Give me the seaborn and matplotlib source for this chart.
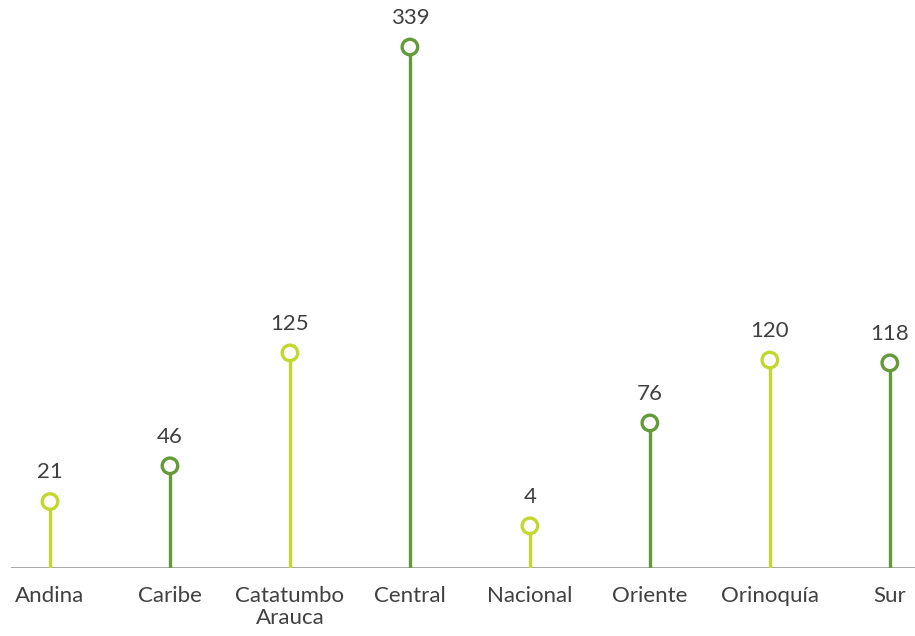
import matplotlib
matplotlib.use("Agg")
import matplotlib.pyplot as plt
import pandas as pd
import seaborn as sns

# datos
regiones = ["Andina", "Caribe", "Catatumbo\nArauca", "Central", "Nacional",
            "Oriente", "Orinoquía", "Sur"]
valores = [21, 46, 125, 339, 4, 76, 120, 118]
grupo = ["claro", "oscuro", "claro", "oscuro", "claro", "oscuro", "claro", "oscuro"]

colores = {"claro": "#c3d82e", "oscuro": "#66993a"}

df = pd.DataFrame({"region": regiones, "valor": valores, "grupo": grupo})
df["x"] = range(len(df))

sns.set_theme(style="white")
plt.rcParams["font.family"] = ["Lato", "DejaVu Sans"]

fig = plt.figure(figsize=(9.15, 6.36), dpi=100)
ax = fig.add_axes([11 / 915, 68 / 636, 1 - 11 / 915, 1 - 68 / 636])

y_min, y_max = -25.5, 371.9

# tallos
ax.vlines(df["x"], y_min, df["valor"], colors=df["grupo"].map(colores), linewidth=2.4, zorder=2)

# marcadores huecos
sns.scatterplot(data=df, x="x", y="valor", hue="grupo", palette=colores,
                s=125, legend=False, ax=ax, zorder=3)
coll = ax.collections[-1]
fc = coll.get_facecolors()
coll.set_edgecolors(fc)
coll.set_facecolors("white")
coll.set_linewidth(2.4)

# etiquetas de valor
for _, row in df.iterrows():
    ax.annotate(str(row["valor"]), (row["x"], row["valor"]), xytext=(0, 21),
                textcoords="offset points", ha="center", va="center",
                fontsize=16, color="#404040")

ax.axhline(y_min, color="#9a9a9a", linewidth=1.2, zorder=1)

ax.set_xlim(-0.325, 7.21)
ax.set_ylim(y_min, y_max)
ax.set_xticks(df["x"])
ax.set_xticklabels(df["region"], fontsize=16, color="#404040", linespacing=1.15)
ax.tick_params(axis="x", length=0, pad=13)
ax.set_yticks([])
ax.set_xlabel("")
ax.set_ylabel("")
for s in ax.spines.values():
    s.set_visible(False)

fig.savefig("out.png", dpi=100)
